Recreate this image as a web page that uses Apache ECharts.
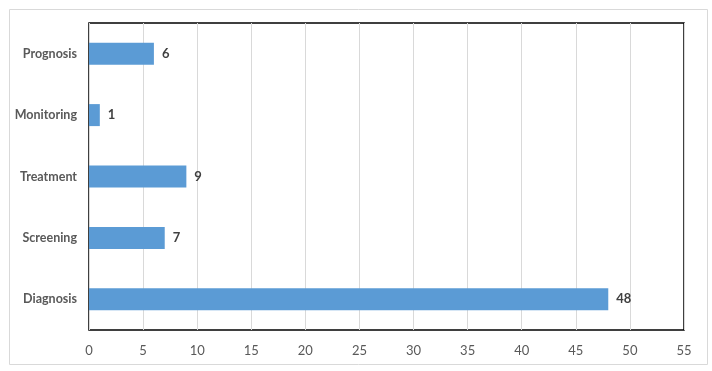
<!DOCTYPE html>
<html><head><meta charset="utf-8">
<script src="https://cdn.jsdelivr.net/npm/echarts@6/dist/echarts.min.js"></script>
<style>html,body{margin:0;padding:0;background:#fff}#c{width:712px;height:371px}</style>
</head><body><div id="c"></div>
<script>
const categories = ["Diagnosis", "Screening", "Treatment", "Monitoring", "Prognosis"];
const values = [48, 7, 9, 1, 6];
const xTicks = [0, 5, 10, 15, 20, 25, 30, 35, 40, 45, 50, 55];

const chart = echarts.init(document.getElementById('c'), null, {renderer: 'canvas'});
chart.setOption({
  animation: false,
  graphic: [{
    type: 'rect', left: 7, top: 7, shape: {width: 698, height: 355},
    style: {fill: 'none', stroke: '#d9d9d9', lineWidth: 1}, z: -1
  }],
  grid: {left: 89, right: 28, top: 23, bottom: 41, show: true, borderColor: '#000', borderWidth: 1.5, containLabel: false},
  xAxis: {
    type: 'value', min: xTicks[0], max: xTicks[xTicks.length - 1], interval: 5,
    axisLine: {show: false}, axisTick: {show: false},
    splitLine: {show: true, lineStyle: {color: '#d9d9d9', width: 1}},
    axisLabel: {color: '#595959', fontFamily: 'Lato', fontSize: 13, margin: 14}
  },
  yAxis: {
    type: 'category', data: categories,
    axisLine: {show: false}, axisTick: {show: false},
    axisLabel: {color: '#595959', fontFamily: 'Lato', fontSize: 12.5, fontWeight: 'bold', margin: 12}
  },
  series: [{
    type: 'bar', data: values, barWidth: 22,
    itemStyle: {color: '#5b9bd5'},
    label: {show: true, position: 'right', distance: 8, color: '#404040', fontFamily: 'Lato', fontSize: 13, fontWeight: 'bold'}
  }]
});
</script></body></html>
